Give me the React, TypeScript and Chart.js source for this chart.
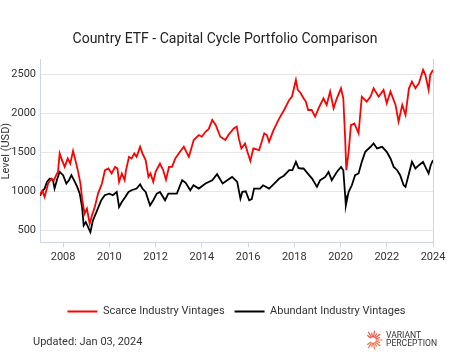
import { useEffect, useRef } from "react";
import { Chart, registerables } from "chart.js";

Chart.register(...registerables);

const chartTitle = "Country ETF - Capital Cycle Portfolio Comparison";
const yAxisTitle = "Level (USD)";
const seriesNames = ["Scarce Industry Vintages", "Abundant Industry Vintages"];
const xTicks = [2008, 2010, 2012, 2014, 2016, 2018, 2020, 2022, 2024];
const yTicks = [500, 1000, 1500, 2000, 2500];

const scarceDates = [
  2007.0, 2007.1, 2007.2, 2007.35, 2007.5, 2007.6, 2007.7, 2007.78, 2007.85, 2007.95,
  2008.07, 2008.2, 2008.31, 2008.43, 2008.53, 2008.65, 2008.75, 2008.83, 2008.93, 2009.03,
  2009.15, 2009.25, 2009.37, 2009.51, 2009.68, 2009.81, 2009.96, 2010.1, 2010.25, 2010.35,
  2010.42, 2010.54, 2010.66, 2010.72, 2010.85, 2010.96, 2011.08, 2011.18, 2011.33, 2011.43,
  2011.57, 2011.69, 2011.78, 2011.9, 2012.0, 2012.19, 2012.33, 2012.45, 2012.58, 2012.71,
  2012.85, 2013.0, 2013.22, 2013.44, 2013.65, 2013.87, 2014.0, 2014.16, 2014.3, 2014.45,
  2014.6, 2014.8, 2015.02, 2015.15, 2015.38, 2015.51, 2015.6, 2015.71, 2015.87, 2015.98,
  2016.1, 2016.23, 2016.48, 2016.7, 2016.81, 2016.91, 2017.1, 2017.35, 2017.56, 2017.78,
  2017.9, 2018.07, 2018.15, 2018.28, 2018.4, 2018.5, 2018.6, 2018.75, 2018.9, 2019.05,
  2019.26, 2019.4, 2019.55, 2019.7, 2019.84, 2020.02, 2020.12, 2020.2, 2020.25, 2020.35,
  2020.45, 2020.6, 2020.78, 2020.92, 2021.13, 2021.3, 2021.43, 2021.65, 2021.86, 2022.0,
  2022.16, 2022.38, 2022.51, 2022.67, 2022.81, 2022.96, 2023.09, 2023.24, 2023.39, 2023.57,
  2023.67, 2023.81, 2023.88, 2024.0,
];
const scarceValues = [
  960, 1010, 928, 1100, 1164, 1140, 1207, 1250, 1486, 1400,
  1313, 1421, 1357, 1519, 1400, 1249, 1100, 886, 714, 779,
  586, 693, 800, 971, 1100, 1271, 1293, 1229, 1313, 1293,
  1121, 1229, 1143, 1271, 1442, 1421, 1486, 1442, 1571, 1486,
  1400, 1185, 1229, 1121, 1250, 1357, 1271, 1150, 1313, 1313,
  1420, 1486, 1571, 1442, 1657, 1721, 1700, 1763, 1800, 1914,
  1850, 1700, 1657, 1721, 1807, 1828, 1678, 1550, 1614, 1500,
  1390, 1550, 1528, 1743, 1721, 1635, 1785, 1935, 2042, 2171,
  2214, 2428, 2300, 2257, 2192, 2150, 2042, 2043, 1956, 2064,
  2192, 2107, 2278, 2064, 2192, 2320, 2192, 1678, 1271, 1507,
  1849, 1870, 1743, 2213, 2150, 2213, 2320, 2213, 2300, 2128,
  2278, 2107, 1892, 2107, 1978, 2320, 2406, 2320, 2385, 2556,
  2492, 2299, 2492, 2556,
];

const abundantDates = [
  2007.0, 2007.1, 2007.2, 2007.3, 2007.42, 2007.56, 2007.63, 2007.75, 2007.85, 2008.0,
  2008.14, 2008.25, 2008.36, 2008.47, 2008.61, 2008.72, 2008.82, 2008.89, 2008.98, 2009.08,
  2009.18, 2009.29, 2009.44, 2009.65, 2009.8, 2010.0, 2010.15, 2010.32, 2010.42, 2010.54,
  2010.69, 2010.83, 2010.96, 2011.18, 2011.33, 2011.43, 2011.57, 2011.76, 2011.9, 2012.05,
  2012.19, 2012.41, 2012.55, 2012.71, 2012.92, 2013.15, 2013.3, 2013.5, 2013.64, 2013.87,
  2014.16, 2014.45, 2014.66, 2014.9, 2015.1, 2015.31, 2015.53, 2015.67, 2015.75, 2015.9,
  2016.05, 2016.16, 2016.26, 2016.52, 2016.65, 2016.91, 2017.1, 2017.35, 2017.55, 2017.78,
  2017.92, 2018.07, 2018.18, 2018.28, 2018.4, 2018.64, 2018.77, 2018.98, 2019.12, 2019.34,
  2019.48, 2019.62, 2019.84, 2020.02, 2020.12, 2020.2, 2020.23, 2020.35, 2020.49, 2020.63,
  2020.78, 2020.92, 2021.07, 2021.3, 2021.43, 2021.58, 2021.8, 2022.0, 2022.16, 2022.3,
  2022.45, 2022.58, 2022.73, 2022.81, 2022.96, 2023.09, 2023.24, 2023.39, 2023.57, 2023.67,
  2023.81, 2023.9, 2024.0,
];
const abundantValues = [
  943, 1000, 1036, 1120, 1164, 1143, 1036, 1164, 1249, 1207,
  1100, 1143, 1207, 1143, 1057, 971, 800, 564, 607, 543,
  478, 629, 735, 886, 950, 971, 950, 992, 800, 864,
  928, 992, 1014, 1036, 1091, 1036, 992, 821, 886, 971,
  992, 886, 971, 971, 971, 1143, 1110, 1014, 1078, 1036,
  1100, 1143, 1220, 1100, 1143, 1185, 1121, 907, 993, 1000,
  886, 900, 1036, 1036, 1078, 1036, 1090, 1164, 1200, 1271,
  1271, 1378, 1300, 1293, 1293, 1207, 1164, 1057, 1143, 1185,
  1249, 1143, 1249, 1313, 1271, 950, 821, 993, 1078, 1207,
  1229, 1378, 1507, 1571, 1614, 1550, 1571, 1507, 1421, 1313,
  1271, 1207, 1078, 1057, 1229, 1378, 1293, 1335, 1378, 1313,
  1229, 1335, 1400,
];

const font = "Roboto, 'Noto Sans', Arial, sans-serif";
const axisColor = "#ccd6eb";

function Sunburst() {
  const rays = [];
  const n = 18;
  for (let i = 0; i < n; i++) {
    const a = (i / n) * Math.PI * 2;
    if (a > Math.PI * 0.85 && a < Math.PI * 1.15) continue;
    const r1 = 3.2;
    const r2 = i % 2 === 0 ? 9 : 7;
    const cx = 10, cy = 10;
    const t = i / n;
    const col = t < 0.5 ? "#f26a3d" : "#e8452c";
    rays.push(
      <line
        key={i}
        x1={cx + Math.cos(a) * r1}
        y1={cy + Math.sin(a) * r1}
        x2={cx + Math.cos(a) * r2}
        y2={cy + Math.sin(a) * r2}
        stroke={col}
        strokeWidth={1.1}
        strokeLinecap="round"
      />
    );
  }
  return (
    <svg width={20} height={20} style={{ position: "absolute", left: 363, top: 330 }}>
      {rays}
    </svg>
  );
}

export default function App() {
  const ref = useRef<HTMLCanvasElement>(null);
  useEffect(() => {
    const chart = new Chart(ref.current!, {
      type: "line",
      data: {
        datasets: [
          {
            label: seriesNames[0],
            data: scarceDates.map((d, i) => ({ x: d, y: scarceValues[i] })),
            borderColor: "#ff0000",
            backgroundColor: "#ff0000",
            borderWidth: 1.8,
            pointRadius: 0,
            tension: 0,
          },
          {
            label: seriesNames[1],
            data: abundantDates.map((d, i) => ({ x: d, y: abundantValues[i] })),
            borderColor: "#000000",
            backgroundColor: "#000000",
            borderWidth: 1.8,
            pointRadius: 0,
            tension: 0,
          },
        ],
      },
      options: {
        animation: false,
        responsive: false,
        maintainAspectRatio: false,
        layout: { padding: { top: 0, left: 0, right: 0, bottom: 28 } },
        plugins: {
          title: {
            display: true,
            text: chartTitle,
            font: { family: font, size: 14, weight: "normal" },
            color: "#222",
            padding: { top: 31, bottom: 12 },
          },
          legend: {
            position: "bottom",
            fullSize: false,
            labels: {
              boxWidth: 30,
              boxHeight: 2,
              padding: 10,
              font: { family: font, size: 11 },
              color: "#333",
              generateLabels: (c: any) =>
                c.data.datasets.map((ds: any, i: number) => ({
                  text: ds.label,
                  fillStyle: ds.borderColor,
                  strokeStyle: ds.borderColor,
                  lineWidth: 0,
                  hidden: false,
                  datasetIndex: i,
                  fontColor: "#333",
                })),
            },
          },
          tooltip: { enabled: false },
        },
        scales: {
          x: {
            type: "linear",
            min: 2007,
            max: 2024,
            afterBuildTicks: (s: any) => {
              s.ticks = xTicks.map((v) => ({ value: v }));
            },
            afterFit: (s: any) => {
              s.height = 53.5;
            },
            grid: { drawOnChartArea: false, drawTicks: true, tickLength: 5, color: axisColor },
            border: { display: true, color: axisColor },
            ticks: {
              font: { family: font, size: 11 },
              color: "#333",
              padding: 3,
              maxRotation: 0,
              callback: (v: any) => String(v),
            },
          },
          y: {
            type: "linear",
            min: 345,
            max: 2685,
            afterBuildTicks: (s: any) => {
              s.ticks = yTicks.map((v) => ({ value: v }));
            },
            afterFit: (s: any) => {
              s.width = 40;
            },
            grid: { color: "#e6e6e6", drawTicks: false },
            border: { display: true, color: axisColor },
            ticks: {
              font: { family: font, size: 11 },
              color: "#333",
              padding: 4,
              callback: (v: any) => String(v),
            },
            title: {
              display: true,
              text: yAxisTitle,
              font: { family: font, size: 11 },
              color: "#333",
              padding: { top: 0, bottom: 0 },
            },
          },
          y2: {
            type: "linear",
            position: "right",
            grid: { display: false, drawTicks: false },
            ticks: { display: false },
            border: { display: true, color: axisColor },
            afterFit: (s: any) => {
              s.width = 17;
            },
          },
        },
      } as any,
    });
    return () => chart.destroy();
  }, []);

  return (
    <div style={{ position: "fixed", left: 0, top: 0, width: 450, height: 355, background: "#fff" }}>
      <canvas ref={ref} width={450} height={355} style={{ display: "block" }} />
      <div
        style={{
          position: "absolute",
          left: 33,
          top: 335,
          fontFamily: font,
          fontSize: 11,
          lineHeight: "13px",
          color: "#333",
          whiteSpace: "nowrap",
        }}
      >
        Updated: Jan 03, 2024
      </div>
      <Sunburst />
      <div
        style={{
          position: "absolute",
          left: 386,
          top: 331,
          fontFamily: font,
          fontSize: 8.6,
          lineHeight: "8px",
          color: "#333",
          whiteSpace: "nowrap",
        }}
      >
        VARIANT
        <br />
        PERCEPTION
      </div>
    </div>
  );
}
